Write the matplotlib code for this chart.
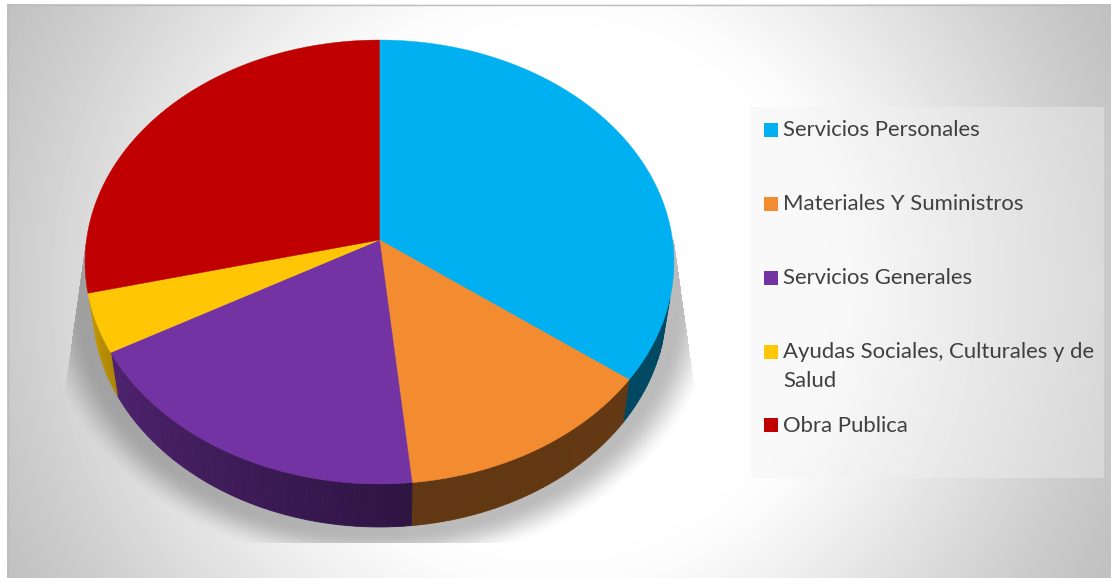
import numpy as np
import matplotlib
matplotlib.use('Agg')
import matplotlib.pyplot as plt
from matplotlib.patches import Polygon, Rectangle

# data
categories = ['Servicios Personales', 'Materiales Y Suministros', 'Servicios Generales',
              'Ayudas Sociales, Culturales y de\nSalud', 'Obra Publica']
values = [35.2, 13.2, 18.5, 4.3, 28.8]
colors = ['#00B0F0', '#F38B30', '#7333A3', '#FFC606', '#C00000']
legend_y = [130, 204, 278, 352, 425]

W, H = 1111, 578
plt.rcParams['font.family'] = ['Lato', 'DejaVu Sans']

fig = plt.figure(figsize=(W / 100, H / 100), dpi=100, facecolor='white')
ax = fig.add_axes([0, 0, 1, 1])
ax.set_xlim(0, W)
ax.set_ylim(H, 0)
ax.axis('off')

# background radial gradient
xx, yy = np.meshgrid(np.arange(W) + 0.5, np.arange(H) + 0.5)
r = np.hypot(xx - 555, yy - 289)
bg = np.interp(r, [250, 300, 350, 545, 620], [255, 251, 242, 204, 192]) / 255
ax.imshow(bg, cmap='gray', vmin=0, vmax=1, extent=(0, W, H, 0), zorder=0, aspect='auto')
ax.add_patch(Rectangle((0, 0), 7, H, color='white', lw=0, zorder=1))
ax.add_patch(Rectangle((0, 0), W, 4, color='white', lw=0, zorder=1))
ax.plot([7, W], [4.5, 4.5], color='#bdbdbd', lw=1, zorder=1)
ax.plot([7.5, 7.5], [4, H], color='#bdbdbd', lw=1, zorder=1)

# soft shadow under the pie, cut off like the original bevel shadow
re = np.hypot((xx - 379) / 306, (yy - 296) / 244)
t = np.clip((1.12 - re) / 0.15, 0, 1)
alpha = 0.27 * t * t * (3 - 2 * t)
left = 86 - 21 * (yy - 240) / 150
right = 674 + 21 * (yy - 240) / 150
alpha[(xx < left) | (xx > right) | (yy < 240) | (yy > 543)] = 0
shadow = np.zeros((H, W, 4))
shadow[..., 3] = alpha
ax.imshow(shadow, extent=(0, W, H, 0), zorder=2, aspect='auto')
ax.set_xlim(0, W)
ax.set_ylim(H, 0)


# perspective projection of the pie disc
def top_pt(ang):
    u, v = np.sin(ang), np.cos(ang)
    c = 0.0991
    d = 1 + c * v
    return 379.5 + 293 * u / d, (-196 * v + 240) / d


def bottom_pt(ang):
    x, y = top_pt(ang)
    return 379.5 + 0.975 * (x - 379.5), y + 43


def side_shade(a):
    return np.interp(a, [0, 174, 241, 262, 360], [0.43, 0.40, 0.68, 0.80, 0.80])


edges = np.cumsum([0] + values) / sum(values) * 2 * np.pi

# sides, drawn as thin strips so the shade can change around the rim
for i, col in enumerate(colors):
    a0, a1 = edges[i], edges[i + 1]
    n = max(2, int((a1 - a0) * 40))
    angs = np.linspace(a0, a1, n + 1)
    rgb = np.array(matplotlib.colors.to_rgb(col))
    for s in range(n):
        mid = 0.5 * (angs[s] + angs[s + 1])
        if np.cos(mid) > -0.26:
            continue
        pts = [top_pt(angs[s]), top_pt(angs[s + 1]),
               bottom_pt(angs[s + 1]), bottom_pt(angs[s])]
        shade = rgb * side_shade(np.degrees(mid))
        ax.add_patch(Polygon(pts, closed=True, fc=shade, ec=shade, lw=0.6, zorder=3))

# top face
for i, col in enumerate(colors):
    angs = np.linspace(edges[i], edges[i + 1], 200)
    x, y = top_pt(angs)
    pts = np.column_stack([np.r_[379.5, x], np.r_[240, y]])
    ax.add_patch(Polygon(pts, closed=True, fc=col, ec=col, lw=0.3, zorder=4))

# legend
ax.add_patch(Rectangle((751, 107), 353, 371, fc='#F2F2F2', ec='none', alpha=0.39, zorder=5))
for label, col, ly in zip(categories, colors, legend_y):
    ax.add_patch(Rectangle((764, ly - 7), 14, 14, fc=col, ec='none', zorder=6))
    ax.text(783, ly - 9.5, label, fontsize=15.9, color='#404040', va='top', ha='left',
            linespacing=1.55, zorder=6)

fig.savefig('out.png', dpi=100)
